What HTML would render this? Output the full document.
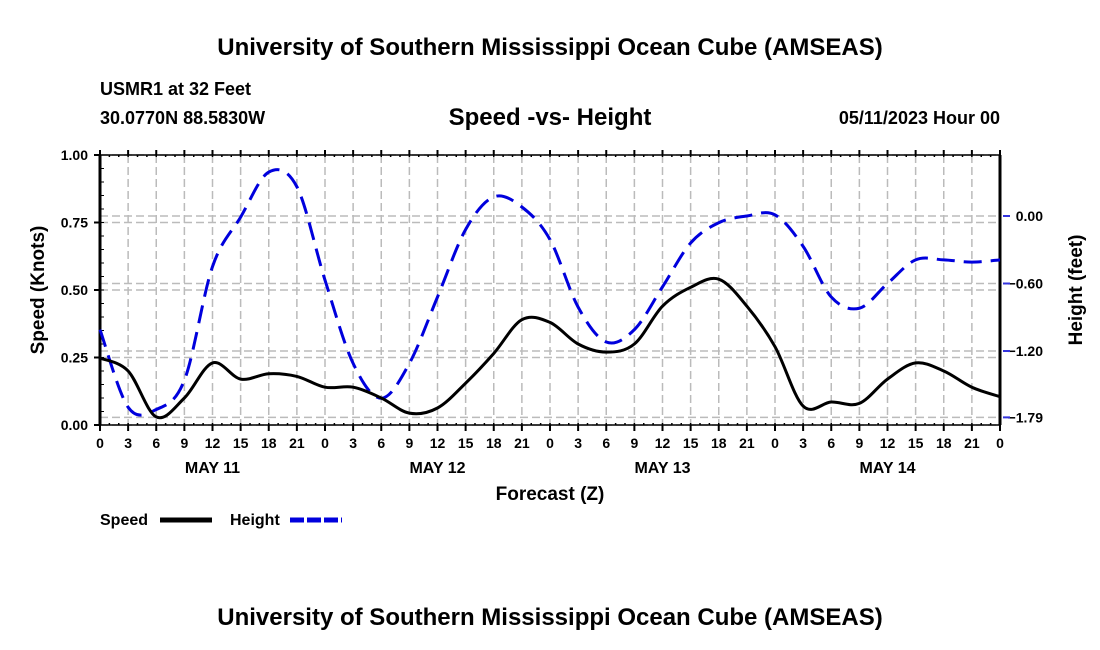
<!DOCTYPE html>
<html><head><meta charset="utf-8"><style>
body{margin:0;background:#fff}
svg{display:block;font-family:"Liberation Sans",Arial,sans-serif}
</style></head><body>
<svg width="1100" height="650" viewBox="0 0 1100 650">
<text x="550" y="55" text-anchor="middle" font-size="24" font-weight="bold">University of Southern Mississippi Ocean Cube (AMSEAS)</text>
<text x="100" y="95" font-size="18" font-weight="bold">USMR1 at 32 Feet</text>
<text x="100" y="124" font-size="18" font-weight="bold">30.0770N  88.5830W</text>
<text x="550" y="125" text-anchor="middle" font-size="24" font-weight="bold">Speed -vs- Height</text>
<text x="1000" y="124" text-anchor="end" font-size="18" font-weight="bold">05/11/2023 Hour 00</text>
<g id="grid"></g>
<g id="axes"></g>
<g id="series"></g>
<text x="550" y="500" text-anchor="middle" font-size="19" font-weight="bold">Forecast (Z)</text>
<text transform="translate(44,290) rotate(-90)" text-anchor="middle" font-size="19" font-weight="bold">Speed (Knots)</text>
<text transform="translate(1082,290) rotate(-90)" text-anchor="middle" font-size="19" font-weight="bold">Height (feet)</text>
<g><text x="100" y="525" font-size="16" font-weight="bold">Speed</text><line x1="160" y1="520" x2="212" y2="520" stroke="#000" stroke-width="5"/></g>
<g><text x="230" y="525" font-size="16" font-weight="bold">Height</text><line x1="290" y1="520" x2="342" y2="520" stroke="#0000dd" stroke-width="5" stroke-dasharray="14,3"/></g>
<text x="550" y="625" text-anchor="middle" font-size="24" font-weight="bold">University of Southern Mississippi Ocean Cube (AMSEAS)</text>
</svg>
<script>
const hours=[0,3,6,9,12,15,18,21,24,27,30,33,36,39,42,45,48,51,54,57,60,63,66,69,72,75,78,81,84,87,90,93,96];
const speed=[0.248,0.20,0.03,0.10,0.23,0.17,0.19,0.18,0.14,0.14,0.10,0.044,0.063,0.155,0.265,0.39,0.38,0.30,0.27,0.30,0.44,0.51,0.54,0.44,0.29,0.07,0.085,0.08,0.17,0.23,0.20,0.14,0.105];
const height=[-1.01,-1.70,-1.72,-1.46,-0.45,-0.01,0.39,0.26,-0.57,-1.31,-1.62,-1.31,-0.72,-0.12,0.17,0.08,-0.21,-0.81,-1.12,-1.01,-0.63,-0.24,-0.06,0.00,0.01,-0.27,-0.72,-0.82,-0.60,-0.39,-0.39,-0.41,-0.39];
const leftTicks=[0,0.25,0.5,0.75,1.0];
const leftLabels=["0.00","0.25","0.50","0.75","1.00"];
const rightTicks=[0,-0.6,-1.2,-1.79];
const rightLabels=["0.00","\u22120.60","\u22121.20","\u22121.79"];
const dayLabels=["MAY 11","MAY 12","MAY 13","MAY 14"];
const NS="http://www.w3.org/2000/svg";
const X0=100,X1=1000,Y0=425,Y1=155;
const x=t=>X0+(t/96)*(X1-X0);
const yL=v=>Y0-(v)*(Y0-Y1);
const yR=h=>216-h*112.5;
function mk(tag,attrs,parent){const e=document.createElementNS(NS,tag);for(const k in attrs)e.setAttribute(k,attrs[k]);parent.appendChild(e);return e;}
const grid=document.getElementById('grid'),axes=document.getElementById('axes'),ser=document.getElementById('series');
for(let t=3;t<96;t+=3){const l=mk('line',{x1:x(t),x2:x(t),y1:Y1,y2:Y0,stroke:'#bbb','stroke-width':1.5,'stroke-dasharray':'8,4'},grid);

}
leftTicks.forEach((v,i)=>{const l=mk('line',{x1:X0,x2:X1,y1:yL(v),y2:yL(v),stroke:'#bbb','stroke-width':1.5,'stroke-dasharray':'8,4'},grid);


const tx=mk('text',{x:88,y:yL(v)+5,'text-anchor':'end','font-size':14,'font-weight':'bold'},axes);tx.textContent=leftLabels[i];


mk('line',{x1:X0-6,x2:X0,y1:yL(v),y2:yL(v),stroke:'#000','stroke-width':2},axes);});
rightTicks.forEach((v,i)=>{const l=mk('line',{x1:X0,x2:X1,y1:yR(v),y2:yR(v),stroke:'#bbb','stroke-width':1.5,'stroke-dasharray':'8,4'},grid);


const tx=mk('text',{x:1043,y:yR(v)+5,'text-anchor':'end','font-size':14,'font-weight':'bold'},axes);tx.textContent=rightLabels[i];


mk('line',{x1:X1+3,x2:X1+10,y1:yR(v),y2:yR(v),stroke:'#3333dd','stroke-width':2},axes);});
for(let v=0.05;v<1;v+=0.05){mk('line',{x1:X0,x2:X0+4,y1:yL(v),y2:yL(v),stroke:'#000','stroke-width':1},axes);}
for(let t=0;t<=96;t+=1){mk('line',{x1:x(t),x2:x(t),y1:Y1,y2:Y1+2,stroke:'#000','stroke-width':1.5},axes);mk('line',{x1:x(t),x2:x(t),y1:Y0,y2:Y0-2,stroke:'#000','stroke-width':1.5},axes);}
mk('rect',{x:X0,y:Y1,width:X1-X0,height:Y0-Y1,fill:'none',stroke:'#000','stroke-width':1.5},axes);
mk('line',{x1:X0,x2:X0,y1:Y1,y2:Y0,stroke:'#000','stroke-width':3},axes);
mk('line',{x1:X1,x2:X1,y1:Y1,y2:Y0,stroke:'#000','stroke-width':3},axes);
for(let t=0;t<=96;t+=3){mk('line',{x1:x(t),x2:x(t),y1:Y0,y2:Y0+6,stroke:'#000','stroke-width':2},axes);mk('line',{x1:x(t),x2:x(t),y1:Y1,y2:Y1-5,stroke:'#000','stroke-width':2},axes);
const tx=mk('text',{x:x(t),y:448,'text-anchor':'middle','font-size':14,'font-weight':'bold'},axes);tx.textContent=String(t%24);

}
dayLabels.forEach((d,i)=>{const tx=mk('text',{x:x(12+24*i),y:473,'text-anchor':'middle','font-size':16,'font-weight':'bold'},axes);tx.textContent=d;

});
function smooth(pts){let d=`M${pts[0][0]},${pts[0][1]}`;for(let i=0;i<pts.length-1;i++){const p0=pts[Math.max(0,i-1)],p1=pts[i],p2=pts[i+1],p3=pts[Math.min(pts.length-1,i+2)];
d+=` C${p1[0]+(p2[0]-p0[0])/6},${p1[1]+(p2[1]-p0[1])/6} ${p2[0]-(p3[0]-p1[0])/6},${p2[1]-(p3[1]-p1[1])/6} ${p2[0]},${p2[1]}`;}return d;}
const hp=mk('path',{d:smooth(hours.map((t,i)=>[x(t),yR(height[i])])),fill:'none',stroke:'#0000dd','stroke-width':3,'stroke-dasharray':'18,9'},ser);


const sp=mk('path',{d:smooth(hours.map((t,i)=>[x(t),yL(speed[i])])),fill:'none',stroke:'#000','stroke-width':3},ser);


</script>
</body></html>
